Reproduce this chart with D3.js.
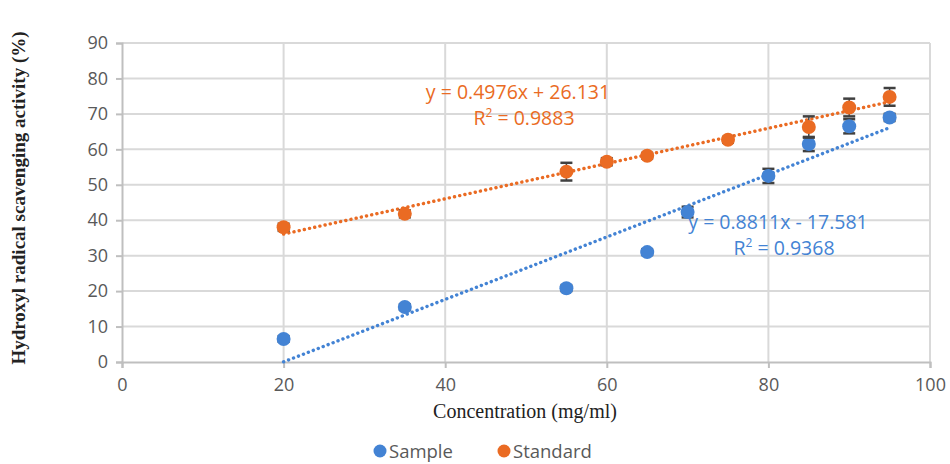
<!DOCTYPE html>
<html>
<head>
<meta charset="utf-8">
<script src="https://cdn.jsdelivr.net/npm/d3@7"></script>
<style>
  body { margin: 0; background: #fff; }
  svg { display: block; }
</style>
</head>
<body>
<svg id="chart"></svg>
<script>
const WIDTH = 950;
const HEIGHT = 464;

// concentrations (mg/ml)
const sampleX = [20, 35, 55, 65, 70, 80, 85, 90, 95];
const sampleY = [6.5, 15.5, 20.8, 31, 42.3, 52.5, 61.5, 66.5, 69];
const sampleErr = [0.8, 0.8, 0.8, 0.8, 1.5, 2, 2, 2, 1];

const standardX = [20, 35, 55, 60, 65, 75, 85, 90, 95];
const standardY = [38, 41.8, 53.7, 56.5, 58.2, 62.7, 66.3, 71.8, 74.8];
const standardErr = [1, 1, 2.5, 1, 0.8, 0.8, 3, 2.5, 2.5];

// trendline end points
const sampleTrendX = [20, 95];
const sampleTrendY = [0.04, 66.1];
const standardTrendX = [20, 95];
const standardTrendY = [36.1, 73.4];

const xTicks = [0, 20, 40, 60, 80, 100];
const yTicks = [0, 10, 20, 30, 40, 50, 60, 70, 80, 90];

const BLUE = "#4383d4";
const ORANGE = "#ea6b23";

const margin = {top: 43, right: 20, bottom: 102, left: 122};

const svg = d3.select("#chart")
    .attr("width", WIDTH)
    .attr("height", HEIGHT);

const x = d3.scaleLinear().domain([0, 100]).range([margin.left, 930]);
const y = d3.scaleLinear().domain([0, 90]).range([362, margin.top]);

// gridlines
svg.append("g")
    .selectAll("line.h")
    .data(yTicks.filter(d => d > 0))
    .join("line")
    .attr("x1", x(0)).attr("x2", x(100))
    .attr("y1", d => y(d)).attr("y2", d => y(d))
    .attr("stroke", "#d9d9d9").attr("stroke-width", 2);

svg.append("g")
    .selectAll("line.v")
    .data(xTicks.filter(d => d > 0))
    .join("line")
    .attr("x1", d => x(d)).attr("x2", d => x(d))
    .attr("y1", y(0)).attr("y2", y(90))
    .attr("stroke", "#d9d9d9").attr("stroke-width", 2);

// axes
const xAxis = svg.append("g")
    .attr("transform", `translate(0,${y(0)})`)
    .call(d3.axisBottom(x).tickValues(xTicks).tickSize(6).tickPadding(10));
const yAxis = svg.append("g")
    .attr("transform", `translate(${x(0)},0)`)
    .call(d3.axisLeft(y).tickValues(yTicks).tickSize(6).tickPadding(8));

[xAxis, yAxis].forEach(g => {
    g.select(".domain").attr("stroke", "#bfbfbf").attr("stroke-width", 2);
    g.selectAll(".tick line").attr("stroke", "#bfbfbf").attr("stroke-width", 2);
    g.selectAll(".tick text")
        .attr("fill", "#595959")
        .style("font-family", "'Open Sans', sans-serif")
        .style("font-size", "18px");
});

// trendlines
const line = d3.line().x(d => x(d[0])).y(d => y(d[1]));
svg.append("path")
    .datum(sampleTrendX.map((v, i) => [v, sampleTrendY[i]]))
    .attr("d", line)
    .attr("fill", "none").attr("stroke", BLUE)
    .attr("stroke-width", 3.4).attr("stroke-dasharray", "0.1 5.2")
    .attr("stroke-linecap", "round");
svg.append("path")
    .datum(standardTrendX.map((v, i) => [v, standardTrendY[i]]))
    .attr("d", line)
    .attr("fill", "none").attr("stroke", ORANGE)
    .attr("stroke-width", 3.4).attr("stroke-dasharray", "0.1 5.2")
    .attr("stroke-linecap", "round");

// error bars + points
function drawSeries(xs, ys, errs, color) {
    const data = xs.map((v, i) => ({x: v, y: ys[i], e: errs[i]}));
    const g = svg.append("g");
    const bars = g.selectAll("g.err").data(data).join("g");
    bars.append("line")
        .attr("x1", d => x(d.x)).attr("x2", d => x(d.x))
        .attr("y1", d => y(d.y - d.e)).attr("y2", d => y(d.y + d.e))
        .attr("stroke", "#404040").attr("stroke-width", 1.5);
    [-1, 1].forEach(s => {
        bars.append("line")
            .attr("x1", d => x(d.x) - 6).attr("x2", d => x(d.x) + 6)
            .attr("y1", d => y(d.y + s * d.e)).attr("y2", d => y(d.y + s * d.e))
            .attr("stroke", "#404040").attr("stroke-width", 2.5);
    });
    g.selectAll("circle").data(data).join("circle")
        .attr("cx", d => x(d.x)).attr("cy", d => y(d.y))
        .attr("r", 7).attr("fill", color);
}
drawSeries(sampleX, sampleY, sampleErr, BLUE);
drawSeries(standardX, standardY, standardErr, ORANGE);

// equations
function equation(cx, cy, color, l1, r2) {
    const t = svg.append("g")
        .attr("fill", color)
        .style("font-family", "'Open Sans', sans-serif")
        .style("font-size", "19.5px")
        .attr("text-anchor", "middle");
    t.append("text").attr("x", cx).attr("y", cy).text(l1);
    const r = t.append("text").attr("x", cx + 6).attr("y", cy + 26);
    r.append("tspan").text("R");
    r.append("tspan").attr("dy", -8).style("font-size", "12px").text("2");
    r.append("tspan").attr("dy", 8).text(" = " + r2);
}
equation(518, 99, ORANGE, "y = 0.4976x + 26.131", "0.9883");
equation(778, 229, BLUE, "y = 0.8811x - 17.581", "0.9368");

// axis titles
svg.append("text")
    .attr("x", 525).attr("y", 418)
    .attr("text-anchor", "middle")
    .style("font-family", "'Liberation Serif', serif")
    .style("font-size", "20px")
    .attr("fill", "#222")
    .text("Concentration (mg/ml)");

svg.append("text")
    .attr("transform", "translate(25,198) rotate(-90)")
    .attr("text-anchor", "middle")
    .style("font-family", "'Liberation Serif', serif")
    .style("font-size", "19px")
    .style("font-weight", "bold")
    .attr("fill", "#222")
    .text("Hydroxyl radical scavenging activity (%)");

// legend
const legend = [
    {name: "Sample", color: BLUE, x: 380},
    {name: "Standard", color: ORANGE, x: 504}
];
const lg = svg.append("g").selectAll("g").data(legend).join("g")
    .attr("transform", d => `translate(${d.x},451)`);
lg.append("circle").attr("r", 6.5).attr("fill", d => d.color);
lg.append("text")
    .attr("x", 9).attr("y", 7)
    .attr("fill", "#595959")
    .style("font-family", "'Open Sans', sans-serif")
    .style("font-size", "18.5px")
    .text(d => d.name);
</script>
</body>
</html>
